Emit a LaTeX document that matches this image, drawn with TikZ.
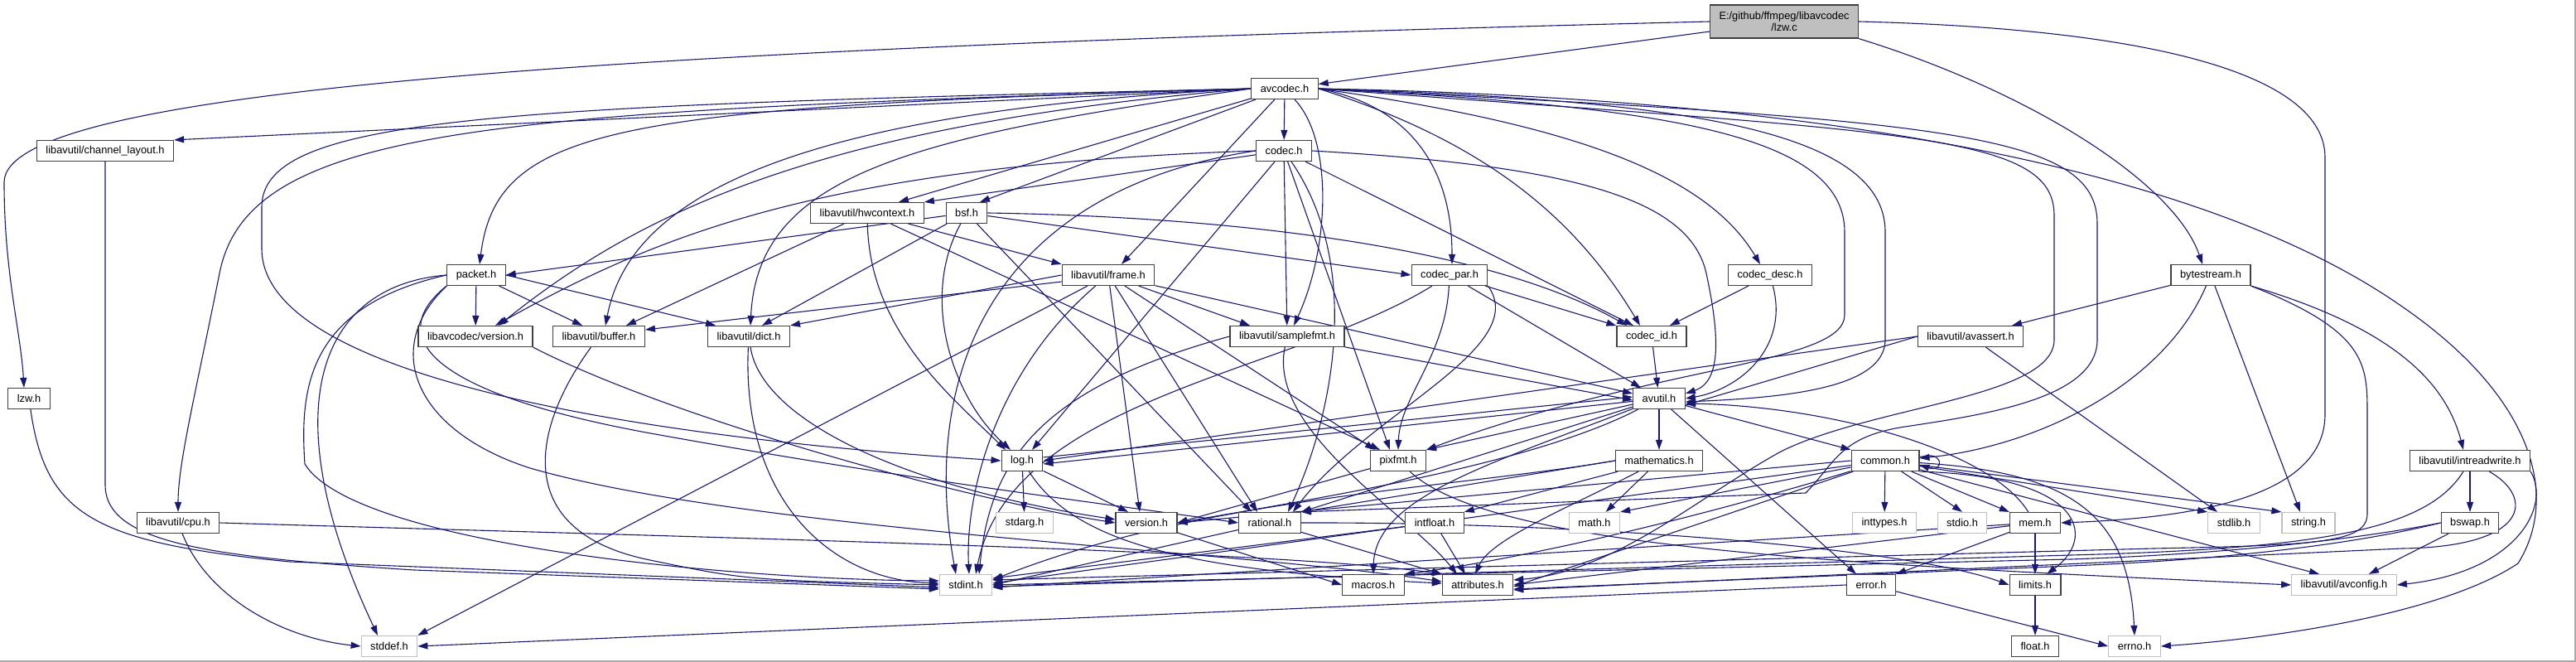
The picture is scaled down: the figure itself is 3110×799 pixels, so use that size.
\documentclass[tikz,border=0pt]{standalone}
\usepackage{fontspec}
\setmainfont{Liberation Sans}
\usepackage{tikz}
\usetikzlibrary{arrows.meta, backgrounds}
\definecolor{edgeblue}{RGB}{25,25,112}
\definecolor{boxframe}{RGB}{64,64,64}
\definecolor{sysframe}{RGB}{191,191,191}
\definecolor{rootfill}{RGB}{191,191,191}
\definecolor{pageframe}{RGB}{170,170,170}
\newcommand{\hdrfont}{\fontsize{12.8}{14}\selectfont}
\tikzset{
  hdr/.style={rectangle, draw=boxframe, line width=1.2pt, fill=white,
    inner xsep=11pt, inner ysep=0pt, minimum height=25pt, font=\hdrfont},
  syshdr/.style={hdr, draw=sysframe},
  rootfile/.style={hdr, fill=rootfill, minimum height=40pt, align=center},
  incl/.style={-{Triangle[length=12pt, width=8pt]}, line width=1.1pt, color=edgeblue},
}

\begin{document}
\begin{tikzpicture}[x=1pt, y=-1pt]
  \useasboundingbox (0,0) rectangle (3110,799);
  \draw[pageframe, line width=1.5pt] (0,798) -- (3109,798) -- (3109,0);

  \node[rootfile] (lzwc) at (2154,26) {E:/github/ffmpeg/libavcodec\\/lzw.c};
  \node[hdr] (avcodec) at (1551,107) {avcodec.h};
  \node[hdr] (codec) at (1550,182) {codec.h};
  \node[hdr] (chlayout) at (127,182) {libavutil/channel\_layout.h};
  \node[hdr] (hwctx) at (1047,257) {libavutil/hwcontext.h};
  \node[hdr] (bsf) at (1167,257) {bsf.h};
  \node[hdr] (packet) at (575,332) {packet.h};
  \node[hdr] (frame) at (1338,332) {libavutil/frame.h};
  \node[hdr] (codecpar) at (1750,332) {codec\_par.h};
  \node[hdr] (codecdesc) at (2137,332) {codec\_desc.h};
  \node[hdr] (bytestream) at (2669,332) {bytestream.h};
  \node[hdr] (lavcver) at (574,406) {libavcodec/version.h};
  \node[hdr] (buffer) at (723,406) {libavutil/buffer.h};
  \node[hdr] (dict) at (904,406) {libavutil/dict.h};
  \node[hdr] (samplefmt) at (1554,406) {libavutil/samplefmt.h};
  \node[hdr] (codecid) at (1994,406) {codec\_id.h};
  \node[hdr] (avassert) at (2379,406) {libavutil/avassert.h};
  \node[hdr] (lzwh) at (35,481) {lzw.h};
  \node[hdr] (avutil) at (2003,481) {avutil.h};
  \node[hdr] (logh) at (1234,556) {log.h};
  \node[hdr] (pixfmt) at (1688,556) {pixfmt.h};
  \node[hdr] (mathem) at (2003,556) {mathematics.h};
  \node[hdr] (common) at (2276,556) {common.h};
  \node[hdr] (intrw) at (2982,556) {libavutil/intreadwrite.h};
  \node[hdr] (cpu) at (215,631) {libavutil/cpu.h};
  \node[syshdr] (stdarg) at (1237,631) {stdarg.h};
  \node[hdr] (lavuver) at (1384,631) {version.h};
  \node[hdr] (rational) at (1533,631) {rational.h};
  \node[hdr] (intfloat) at (1732,631) {intfloat.h};
  \node[syshdr] (math) at (1925,631) {math.h};
  \node[syshdr] (inttypes) at (2275,631) {inttypes.h};
  \node[syshdr] (stdio) at (2369,631) {stdio.h};
  \node[hdr] (mem) at (2457,631) {mem.h};
  \node[syshdr] (stdlib) at (2697,631) {stdlib.h};
  \node[syshdr] (string) at (2787,631) {string.h};
  \node[hdr] (bswap) at (2982,631) {bswap.h};
  \node[syshdr] (stdint) at (1166,706) {stdint.h};
  \node[hdr] (macros) at (1658,706) {macros.h};
  \node[hdr] (attrib) at (1784,706) {attributes.h};
  \node[hdr] (error) at (2259,706) {error.h};
  \node[hdr] (limits) at (2457,706) {limits.h};
  \node[syshdr] (avconfig) at (2830,706) {libavutil/avconfig.h};
  \node[syshdr] (stddef) at (470,780) {stddef.h};
  \node[hdr] (float) at (2457,780) {float.h};
  \node[syshdr] (errno) at (2577,780) {errno.h};

  \begin{scope}[on background layer]
  \draw[incl] (lzwc) -- (avcodec);
  \draw[incl] (lzwc.west) .. controls (700,60) and (5,110) .. (5,220) .. controls (5,330) and (25,400) .. ([xshift=-6pt]lzwh.north);
  \draw[incl] (lzwc.south east) .. controls (2450,110) and (2625,220) .. ([xshift=-10pt]bytestream.north);
  \draw[incl] (lzwc.east) .. controls (2600,35) and (2807,90) .. (2807,190) -- (2807,500) .. controls (2807,600) and (2650,625) .. (mem.east);

  \draw[incl] (avcodec.east) .. controls (2300,120) and (2700,230) .. (2900,370) .. controls (3060,480) and (3090,600) .. (3040,680) .. controls (2950,740) and (2750,770) .. (errno.east);
  \draw[incl] (avcodec.west) -- (chlayout.north east);
  \draw[incl] (avcodec.west) .. controls (600,135) and (300,150) .. (265,330) .. controls (235,480) and (215,560) .. (cpu.north);
  \draw[incl] (avcodec.west) .. controls (750,130) and (600,150) .. ([xshift=4pt]packet.north);
  \draw[incl] (avcodec.west) .. controls (600,128) and (316,140) .. (316,250) -- (316,300) .. controls (316,460) and (800,530) .. (logh.west);
  \draw[incl] (avcodec) -- ([xshift=38pt]hwctx.north);
  \draw[incl] (avcodec) -- ([xshift=16pt]bsf.north);
  \draw[incl] (avcodec) -- (codec);
  \draw[incl] (avcodec.west) .. controls (1000,150) and (780,250) .. ([xshift=28pt]lavcver.north);
  \draw[incl] (avcodec.west) .. controls (950,135) and (760,240) .. ([xshift=8pt]buffer.north);
  \draw[incl] (avcodec.west) .. controls (1100,165) and (915,210) .. ([xshift=2pt]dict.north);
  \draw[incl] (avcodec) -- ([xshift=16pt]frame.north);
  \draw[incl] ([xshift=12pt]avcodec.south) .. controls (1610,170) and (1605,300) .. ([xshift=8pt]samplefmt.north);
  \draw[incl] (avcodec.east) .. controls (1690,125) and (1753,190) .. ([xshift=3pt]codecpar.north);
  \draw[incl] (avcodec.east) .. controls (1900,150) and (2060,210) .. ([xshift=-12pt]codecdesc.north);
  \draw[incl] (avcodec.east) .. controls (1790,170) and (1900,260) .. ([xshift=-14pt]codecid.north);
  \draw[incl] (avcodec.east) .. controls (2000,120) and (2276,150) .. (2276,280) -- (2276,410) .. controls (2276,470) and (2150,480) .. ([yshift=-4pt]avutil.east);
  \draw[incl] (avcodec.east) .. controls (2000,128) and (2227,160) .. (2227,280) -- (2227,380) .. controls (2227,440) and (2000,440) .. (pixfmt.north east);
  \draw[incl] (avcodec.east) .. controls (2300,160) and (2480,160) .. (2480,260) -- (2480,410) .. controls (2480,480) and (2260,490) .. (2150,545) .. controls (2050,600) and (1950,690) .. ([yshift=6pt]attrib.east);
  \draw[incl] (avcodec.east) .. controls (2350,145) and (2532,160) .. (2532,270) -- (2532,410) .. controls (2532,480) and (2400,500) .. (2300,515) .. controls (2220,527) and (2215,560) .. (2180,595) -- (rational.north east);

  \draw[incl] (codec.west) .. controls (1200,230) and (1110,450) .. ([xshift=-12pt]stdint.north);
  \draw[incl] (codec.east) .. controls (1900,200) and (2040,240) .. (2060,330) .. controls (2075,400) and (2080,460) .. ([yshift=6pt]avutil.east);
  \draw[incl] (codec) -- (hwctx.north east);
  \draw[incl] (codec) -- ([xshift=12pt]logh.north);
  \draw[incl] (codec) -- ([xshift=-10pt]pixfmt.north);
  \draw[incl] (codec) .. controls (1645,320) and (1610,500) .. ([xshift=22pt]rational.north);
  \draw[incl] (codec) -- (samplefmt);
  \draw[incl] (codec) -- ([xshift=-22pt]codecid.north);
  \draw[incl] (codec.west) .. controls (1000,200) and (800,280) .. ([xshift=24pt]lavcver.north);

  \draw[incl] (bsf) -- ([xshift=16pt]dict.north);
  \draw[incl] (bsf) .. controls (1110,360) and (1150,480) .. ([xshift=-14pt]logh.north);
  \draw[incl] (bsf) -- ([xshift=-22pt]rational.north);
  \draw[incl] (bsf.east) .. controls (1500,262) and (1800,300) .. ([xshift=-30pt]codecid.north);
  \draw[incl] (bsf) -- (codecpar.west);
  \draw[incl] (bsf) -- (packet.east);

  \draw[incl] (packet.west) .. controls (380,345) and (330,500) .. ([xshift=-14pt]stddef.north);
  \draw[incl] (packet.west) .. controls (370,370) and (362,470) .. (368,560) .. controls (430,660) and (900,700) .. ([yshift=5pt]stdint.west);
  \draw[incl] (packet.south west) .. controls (460,420) and (500,520) .. (640,565) .. controls (900,640) and (1500,665) .. ([yshift=4pt]attrib.west);
  \draw[incl] (packet.south west) .. controls (470,400) and (500,470) .. (780,522) .. controls (1100,580) and (1350,610) .. (rational.west);
  \draw[incl] (packet) -- ([xshift=-20pt]buffer.north);
  \draw[incl] (packet.east) -- ([xshift=-40pt]dict.north);
  \draw[incl] (packet) -- (lavcver);

  \draw[incl] (codecpar) .. controls (1560,450) and (1220,480) .. ([xshift=12pt]stdint.north);
  \draw[incl] (codecpar) -- ([xshift=-22pt]avutil.north);
  \draw[incl] (codecpar) .. controls (1745,430) and (1690,480) .. (pixfmt.north);
  \draw[incl] (codecpar.south east) .. controls (1850,420) and (1650,500) .. ([xshift=28pt]rational.north);
  \draw[incl] (codecpar) -- (codecid);

  \draw[incl] (codecdesc) .. controls (2160,420) and (2100,470) .. (avutil.east);
  \draw[incl] (codecdesc) -- ([xshift=22pt]codecid.north);
  \draw[incl] (codecid) -- (avutil);
  \draw[incl] (lavcver.south east) .. controls (800,500) and (1150,600) .. (lavuver.west);

  \draw[incl] (bytestream) -- ([xshift=50pt]avassert.north);
  \draw[incl] (bytestream) -- ([xshift=-10pt]string.north);
  \draw[incl] (bytestream) .. controls (2610,470) and (2450,540) .. ([yshift=3pt]common.east);
  \draw[incl] (bytestream.south east) .. controls (2870,390) and (2950,450) .. ([xshift=-8pt]intrw.north);
  \draw[incl] (bytestream.south east) .. controls (2858,400) and (2858,440) .. (2858,500) -- (2858,620) .. controls (2858,655) and (2800,658) .. (2600,662) -- ([yshift=6pt]stdint.east);

  \draw[incl] (lzwh) .. controls (55,620) and (110,655) .. (350,678) -- ([yshift=-3pt]stdint.west);
  \draw[incl] (chlayout) -- (127,585) .. controls (127,655) and (250,672) .. (500,688) -- ([yshift=-5pt]stdint.west);
  \draw[incl] (cpu) .. controls (250,720) and (340,770) .. (stddef.west);
  \draw[incl] (cpu.east) .. controls (900,650) and (1550,665) .. (attrib.north west);

  \draw[incl] (hwctx) -- ([xshift=33pt]buffer.north);
  \draw[incl] (hwctx) -- (frame.north west);
  \draw[incl] (hwctx) .. controls (1050,400) and (1150,480) .. ([xshift=-20pt]logh.north);
  \draw[incl] (hwctx) -- ([xshift=-22pt]pixfmt.north);

  \draw[incl] (frame) -- (stddef.north east);
  \draw[incl] (frame) .. controls (1200,450) and (1165,600) .. ([xshift=4pt]stdint.north);
  \draw[incl] (frame) -- ([yshift=6pt]avutil.west);
  \draw[incl] ([yshift=-8pt]frame.west) -- ([yshift=8pt]buffer.east);
  \draw[incl] (frame.west) -- (dict.north east);
  \draw[incl] (frame) -- ([xshift=-15pt]rational.north);
  \draw[incl] (frame) -- ([xshift=-45pt]samplefmt.north);
  \draw[incl] (frame) -- ([xshift=-28pt]pixfmt.north);
  \draw[incl] (frame) -- ([xshift=-8pt]lavuver.north);

  \draw[incl] (dict) .. controls (895,600) and (1000,700) .. ([yshift=2pt]stdint.west);
  \draw[incl] (dict) .. controls (920,510) and (1100,590) .. ([yshift=4pt]lavuver.west);
  \draw[incl] (buffer) .. controls (640,520) and (620,640) .. (780,675) .. controls (900,700) .. (stdint.west);

  \draw[incl] (samplefmt.west) .. controls (1250,470) and (1195,560) .. ([xshift=16pt]stdint.north);
  \draw[incl] (samplefmt) -- ([yshift=-2pt]avutil.west);
  \draw[incl] (samplefmt) .. controls (1530,520) and (1700,620) .. ([xshift=-25pt]attrib.north);

  \draw[incl] (avutil) -- (common.north west);
  \draw[incl] (avutil) -- ([xshift=-18pt]error.north);
  \draw[incl] (avutil) -- (rational.north east);
  \draw[incl] (avutil) .. controls (1850,560) and (1600,600) .. (lavuver.east);
  \draw[incl] (avutil) .. controls (1800,560) and (1660,600) .. (macros.north);
  \draw[incl] (avutil) -- (mathem);
  \draw[incl] (avutil) -- ([yshift=-4pt]logh.east);
  \draw[incl] (avutil) -- (pixfmt.north east);

  \draw[incl] (logh) -- (stdarg);
  \draw[incl] ([yshift=4pt]logh.east) -- ([yshift=2pt]avutil.west);
  \draw[incl] (logh) .. controls (1300,660) and (1450,690) .. ([yshift=2pt]attrib.west);
  \draw[incl] (logh) -- ([xshift=-22pt]lavuver.north);

  \draw[incl] (pixfmt) .. controls (1800,660) and (2200,680) .. (avconfig.west);
  \draw[incl] (pixfmt) -- (lavuver.east);

  \draw[incl] (rational) -- (stdint.east);
  \draw[incl] (rational.east) .. controls (1900,630) and (2300,660) .. (limits.west);
  \draw[incl] (rational) -- (attrib.north west);
  \draw[incl] (lavuver) -- (macros.west);

  \draw[incl] (mathem.west) .. controls (1750,590) and (1450,600) .. ([yshift=6pt]stdint.east);
  \draw[incl] (mathem) -- (math);
  \draw[incl] (mathem) .. controls (1900,610) and (1800,650) .. ([xshift=-3pt]attrib.north);
  \draw[incl] (mathem.west) -- (rational.north east);
  \draw[incl] (mathem) -- (intfloat.north east);

  \draw[incl] (intfloat) -- ([yshift=8pt]stdint.east);
  \draw[incl] (intfloat) -- ([xshift=-15pt]attrib.north);

  \draw[incl] ([yshift=4pt]common.east) .. controls +(30,-10) and +(30,10) .. ([yshift=-5pt]common.east);
  \draw[incl] (common) .. controls (2500,570) and (2570,620) .. (errno.north);
  \draw[incl] (common) -- (inttypes);
  \draw[incl] (common.south east) .. controls (2520,575) and (2530,650) .. ([xshift=14pt]limits.north);
  \draw[incl] (common) -- (math.north east);
  \draw[incl] (common) -- ([yshift=2pt]stdint.east);
  \draw[incl] (common) -- (stdio.north);
  \draw[incl] (common) -- (stdlib.north west);
  \draw[incl] (common) -- (string.north west);
  \draw[incl] (common) -- ([yshift=-2pt]attrib.east);
  \draw[incl] (common) .. controls (2000,640) and (1800,680) .. (macros.north east);
  \draw[incl] (common.west) -- (lavuver.east);
  \draw[incl] (common) -- ([xshift=-30pt]avconfig.north);
  \draw[incl] (common) -- (mem.north west);

  \draw[incl] (mem) -- (limits);
  \draw[incl] (mem) -- ([yshift=-3pt]stdint.east);
  \draw[incl] (mem) -- (attrib.east);
  \draw[incl] (mem) -- (error.north east);
  \draw[incl] (mem) .. controls (2400,540) and (2200,490) .. ([yshift=-6pt]avutil.east);

  \draw[incl] (error) -- (errno.west);
  \draw[incl] (error.west) -- (stddef.east);
  \draw[incl] (limits) -- (float);

  \draw[incl] (avassert) -- ([xshift=-20pt]stdlib.north);
  \draw[incl] (avassert.west) -- ([yshift=-8pt]avutil.east);
  \draw[incl] (avassert.west) -- (logh.east);

  \draw[incl] (intrw) .. controls (2930,640) and (2800,662) .. (2500,670) -- ([yshift=-2pt]stdint.east);
  \draw[incl] (intrw.south east) .. controls (3080,610) and (3040,690) .. (avconfig.east);
  \draw[incl] (intrw) .. controls (3060,600) and (3055,660) .. (2900,662) -- ([yshift=-6pt]attrib.east);
  \draw[incl] (intrw) -- (bswap);

  \draw[incl] (bswap.west) .. controls (2850,650) and (2700,668) .. (2500,675) -- (stdint.east);
  \draw[incl] (bswap) -- ([xshift=30pt]avconfig.north);
  \draw[incl] (bswap.west) .. controls (2850,655) and (2700,675) .. (2500,683) -- ([yshift=-5pt]attrib.east);
  \end{scope}
\end{tikzpicture}
\end{document}
